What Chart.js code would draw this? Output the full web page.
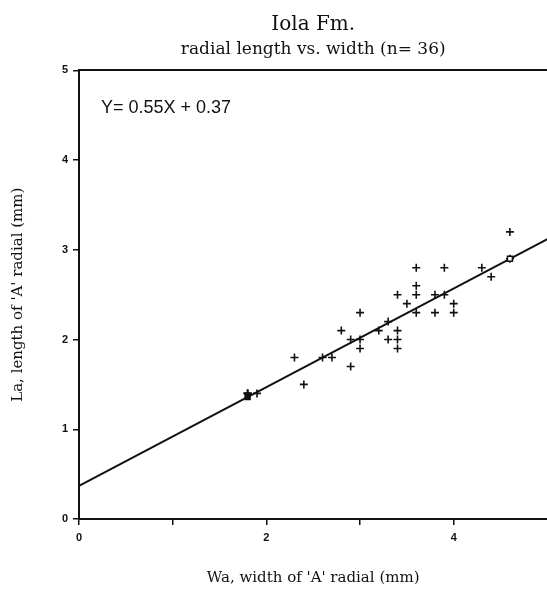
<!DOCTYPE html>
<html>
<head>
<meta charset="utf-8">
<script src="https://cdn.jsdelivr.net/npm/chart.js@4/dist/chart.umd.min.js"></script>
<style>
  html, body { margin: 0; padding: 0; background: #fff; overflow: hidden; }
  /* the frame runs off the right edge, so the canvas is a little wider than the page */
  canvas { display: block; }
</style>
</head>
<body>
<canvas id="radialPlot" width="553" height="593"></canvas>
<script>
// width (Wa) and length (La) of the 'A' radial, mm
const widthA = [1.8, 1.8, 1.8, 1.9, 2.3, 2.4, 2.6, 2.7, 2.8, 2.9, 2.9, 3.0, 3.0, 3.0,
    3.2, 3.3, 3.3, 3.4, 3.4, 3.4, 3.4, 3.5, 3.6, 3.6, 3.6, 3.6, 3.8, 3.8, 3.9, 3.9,
    4.0, 4.0, 4.3, 4.4, 4.6, 4.6];
const lengthA = [1.4, 1.4, 1.4, 1.4, 1.8, 1.5, 1.8, 1.8, 2.1, 2.0, 1.7, 2.3, 2.0, 1.9,
    2.1, 2.2, 2.0, 2.5, 2.1, 2.0, 1.9, 2.4, 2.8, 2.6, 2.5, 2.3, 2.5, 2.3, 2.8, 2.5,
    2.4, 2.3, 2.8, 2.7, 2.9, 3.2];

// regression Y = 0.55X + 0.37
const slope = 0.55;
const intercept = 0.37;
const fitRangeX = [0, 5];
const fitEndsX = [1.8, 4.6];   // smallest and largest width measured

const xTicks = [0, 1, 2, 3, 4, 5];
const xTickLabels = ['0', '', '2', '', '4', ''];
const yTicks = [0, 1, 2, 3, 4, 5];

const points = widthA.map((w, i) => ({ x: w, y: lengthA[i] }));
const fitLine = fitRangeX.map(x => ({ x: x, y: slope * x + intercept }));
const fitEnds = fitEndsX.map(x => ({ x: x, y: slope * x + intercept }));

const equationLabel = {
    id: 'equationLabel',
    afterDatasetsDraw(chart) {
        const { ctx, chartArea } = chart;
        ctx.save();
        ctx.fillStyle = '#111';
        ctx.font = '18px "Liberation Sans", Arial, sans-serif';
        ctx.textBaseline = 'alphabetic';
        ctx.fillText('Y= ' + slope.toFixed(2) + 'X + ' + intercept.toFixed(2),
            chartArea.left + 22, chartArea.top + 43);
        ctx.restore();
    }
};

const tickFont = { family: '"Liberation Sans", Arial, sans-serif', size: 11, weight: 'bold' };
const serif = '"DejaVu Serif", "Liberation Serif", serif';

new Chart(document.getElementById('radialPlot').getContext('2d'), {
    type: 'scatter',
    data: {
        datasets: [
            {
                label: 'fit ends',
                data: fitEnds,
                pointStyle: 'rect',
                pointRadius: 3.5,
                backgroundColor: ['#111', '#fff'],
                borderColor: '#111',
                borderWidth: 1.5
            },
            {
                label: 'La vs Wa',
                data: points,
                pointStyle: 'cross',
                pointRadius: 4,
                borderColor: '#111',
                borderWidth: 1.6
            },
            {
                type: 'line',
                label: 'fit',
                data: fitLine,
                borderColor: '#111',
                borderWidth: 2,
                pointRadius: 0,
                fill: false
            }
        ]
    },
    options: {
        responsive: false,
        animation: false,
        layout: { padding: 0 },
        plugins: {
            legend: { display: false },
            tooltip: { enabled: false },
            title: {
                display: true,
                text: 'Iola Fm.',
                color: '#111',
                font: { family: serif, size: 20, weight: 'normal' },
                padding: { top: 13, bottom: 0 },
                fullSize: false
            },
            subtitle: {
                display: true,
                text: 'radial length vs. width (n= ' + widthA.length + ')',
                color: '#111',
                font: { family: serif, size: 17 },
                padding: { top: 2, bottom: 3 },
                fullSize: false
            }
        },
        scales: {
            x: {
                type: 'linear',
                min: 0,
                max: 5,
                afterBuildTicks: scale => { scale.ticks = xTicks.map(v => ({ value: v })); },
                ticks: {
                    color: '#111',
                    // tall line box pushes the labels below the tick marks
                    font: Object.assign({}, tickFont, { lineHeight: 2.4 }),
                    padding: 0,
                    maxRotation: 0,
                    callback: (v) => xTickLabels[xTicks.indexOf(v)]
                },
                grid: { drawOnChartArea: false, drawTicks: true, tickLength: 6, color: '#111', lineWidth: 1.5 },
                border: { display: true, color: '#111', width: 2 },
                title: {
                    display: true,
                    text: "Wa, width of 'A' radial (mm)",
                    color: '#111',
                    font: { family: serif, size: 15 },
                    padding: { top: 0, bottom: 6 }
                },
                afterFit: scale => { scale.height = 74; }
            },
            xTop: {
                type: 'linear',
                position: 'top',
                min: 0,
                max: 5,
                ticks: { display: false },
                grid: { display: false },
                border: { display: true, color: '#111', width: 2 }
            },
            y: {
                type: 'linear',
                min: 0,
                max: 5,
                afterBuildTicks: scale => { scale.ticks = yTicks.map(v => ({ value: v })); },
                ticks: { color: '#111', font: tickFont, padding: 5 },
                grid: { drawOnChartArea: false, drawTicks: true, tickLength: 6, color: '#111', lineWidth: 1.5 },
                border: { display: true, color: '#111', width: 2 },
                title: {
                    display: true,
                    text: "La, length of 'A' radial (mm)",
                    color: '#111',
                    font: { family: serif, size: 15 },
                    padding: { top: 9, bottom: 0 }
                },
                afterFit: scale => { scale.width = 79; }
            }
        }
    },
    plugins: [equationLabel]
});
</script>
</body>
</html>
